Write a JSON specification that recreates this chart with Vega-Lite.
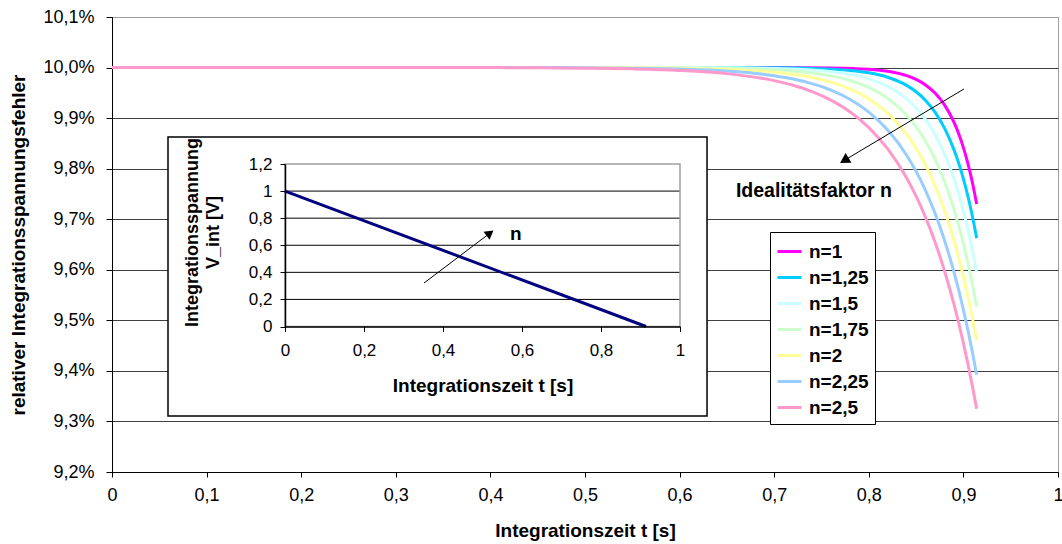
{
  "$schema": "https://vega.github.io/schema/vega-lite/v6.json",
  "width": 946,
  "height": 455,
  "autosize": {"type": "none"},
  "padding": {"left": 112, "top": 17, "right": 4, "bottom": 72},
  "background": "#ffffff",
  "config": {
    "font": "Liberation Sans",
    "view": {"stroke": "#a0a0a0", "strokeWidth": 1},
    "axis": {"labelColor": "#000000", "titleColor": "#000000", "labelFont": "Liberation Sans", "titleFont": "Liberation Sans"},
    "legend": {"labelFont": "Liberation Sans"}
  },
  "datasets": {
    "curves": [
      {"n": "n=1", "t": 0, "v": 10}, {"n": "n=1", "t": 0.7, "v": 10}, {"n": "n=1", "t": 0.76, "v": 9.9992}, {"n": "n=1", "t": 0.8, "v": 9.9965}, {"n": "n=1", "t": 0.82, "v": 9.9925}, {"n": "n=1", "t": 0.84, "v": 9.9839}, {"n": "n=1", "t": 0.85, "v": 9.9765}, {"n": "n=1", "t": 0.86, "v": 9.9655}, {"n": "n=1", "t": 0.87, "v": 9.9495}, {"n": "n=1", "t": 0.88, "v": 9.9261}, {"n": "n=1", "t": 0.89, "v": 9.8919}, {"n": "n=1", "t": 0.895, "v": 9.8692}, {"n": "n=1", "t": 0.9, "v": 9.8417}, {"n": "n=1", "t": 0.905, "v": 9.8084}, {"n": "n=1", "t": 0.91, "v": 9.7682}, {"n": "n=1", "t": 0.914, "v": 9.73},
      {"n": "n=1,25", "t": 0, "v": 10}, {"n": "n=1,25", "t": 0.65, "v": 10}, {"n": "n=1,25", "t": 0.7, "v": 9.9995}, {"n": "n=1,25", "t": 0.74, "v": 9.9983}, {"n": "n=1,25", "t": 0.76, "v": 9.9969}, {"n": "n=1,25", "t": 0.78, "v": 9.9943}, {"n": "n=1,25", "t": 0.8, "v": 9.9896}, {"n": "n=1,25", "t": 0.82, "v": 9.9808}, {"n": "n=1,25", "t": 0.84, "v": 9.9647}, {"n": "n=1,25", "t": 0.85, "v": 9.9521}, {"n": "n=1,25", "t": 0.86, "v": 9.935}, {"n": "n=1,25", "t": 0.87, "v": 9.9118}, {"n": "n=1,25", "t": 0.88, "v": 9.8803}, {"n": "n=1,25", "t": 0.89, "v": 9.8377}, {"n": "n=1,25", "t": 0.895, "v": 9.8109}, {"n": "n=1,25", "t": 0.9, "v": 9.7798}, {"n": "n=1,25", "t": 0.905, "v": 9.7435}, {"n": "n=1,25", "t": 0.91, "v": 9.7013}, {"n": "n=1,25", "t": 0.914, "v": 9.6625},
      {"n": "n=1,5", "t": 0, "v": 10}, {"n": "n=1,5", "t": 0.6, "v": 10}, {"n": "n=1,5", "t": 0.65, "v": 9.9995}, {"n": "n=1,5", "t": 0.7, "v": 9.9982}, {"n": "n=1,5", "t": 0.72, "v": 9.9971}, {"n": "n=1,5", "t": 0.74, "v": 9.9951}, {"n": "n=1,5", "t": 0.76, "v": 9.9919}, {"n": "n=1,5", "t": 0.78, "v": 9.9866}, {"n": "n=1,5", "t": 0.8, "v": 9.9777}, {"n": "n=1,5", "t": 0.82, "v": 9.9629}, {"n": "n=1,5", "t": 0.84, "v": 9.9382}, {"n": "n=1,5", "t": 0.85, "v": 9.9204}, {"n": "n=1,5", "t": 0.86, "v": 9.8973}, {"n": "n=1,5", "t": 0.87, "v": 9.8676}, {"n": "n=1,5", "t": 0.88, "v": 9.8293}, {"n": "n=1,5", "t": 0.89, "v": 9.7799}, {"n": "n=1,5", "t": 0.895, "v": 9.7501}, {"n": "n=1,5", "t": 0.9, "v": 9.7163}, {"n": "n=1,5", "t": 0.905, "v": 9.6778}, {"n": "n=1,5", "t": 0.91, "v": 9.6342}, {"n": "n=1,5", "t": 0.914, "v": 9.595},
      {"n": "n=1,75", "t": 0, "v": 10}, {"n": "n=1,75", "t": 0.55, "v": 10}, {"n": "n=1,75", "t": 0.6, "v": 9.9995}, {"n": "n=1,75", "t": 0.65, "v": 9.9985}, {"n": "n=1,75", "t": 0.7, "v": 9.9955}, {"n": "n=1,75", "t": 0.72, "v": 9.9931}, {"n": "n=1,75", "t": 0.74, "v": 9.9893}, {"n": "n=1,75", "t": 0.76, "v": 9.9835}, {"n": "n=1,75", "t": 0.78, "v": 9.9745}, {"n": "n=1,75", "t": 0.8, "v": 9.9606}, {"n": "n=1,75", "t": 0.82, "v": 9.939}, {"n": "n=1,75", "t": 0.84, "v": 9.9057}, {"n": "n=1,75", "t": 0.85, "v": 9.8828}, {"n": "n=1,75", "t": 0.86, "v": 9.8543}, {"n": "n=1,75", "t": 0.87, "v": 9.8188}, {"n": "n=1,75", "t": 0.88, "v": 9.7747}, {"n": "n=1,75", "t": 0.89, "v": 9.7199}, {"n": "n=1,75", "t": 0.895, "v": 9.6876}, {"n": "n=1,75", "t": 0.9, "v": 9.6517}, {"n": "n=1,75", "t": 0.905, "v": 9.6116}, {"n": "n=1,75", "t": 0.91, "v": 9.567}, {"n": "n=1,75", "t": 0.914, "v": 9.5275},
      {"n": "n=2", "t": 0, "v": 10}, {"n": "n=2", "t": 0.5, "v": 10}, {"n": "n=2", "t": 0.55, "v": 9.9995}, {"n": "n=2", "t": 0.6, "v": 9.9986}, {"n": "n=2", "t": 0.65, "v": 9.9965}, {"n": "n=2", "t": 0.7, "v": 9.9909}, {"n": "n=2", "t": 0.72, "v": 9.9866}, {"n": "n=2", "t": 0.74, "v": 9.9804}, {"n": "n=2", "t": 0.76, "v": 9.9713}, {"n": "n=2", "t": 0.78, "v": 9.958}, {"n": "n=2", "t": 0.8, "v": 9.9385}, {"n": "n=2", "t": 0.82, "v": 9.91}, {"n": "n=2", "t": 0.84, "v": 9.8682}, {"n": "n=2", "t": 0.85, "v": 9.8406}, {"n": "n=2", "t": 0.86, "v": 9.8071}, {"n": "n=2", "t": 0.87, "v": 9.7666}, {"n": "n=2", "t": 0.88, "v": 9.7176}, {"n": "n=2", "t": 0.89, "v": 9.6583}, {"n": "n=2", "t": 0.895, "v": 9.6241}, {"n": "n=2", "t": 0.9, "v": 9.5865}, {"n": "n=2", "t": 0.905, "v": 9.5451}, {"n": "n=2", "t": 0.91, "v": 9.4997}, {"n": "n=2", "t": 0.914, "v": 9.46},
      {"n": "n=2,25", "t": 0, "v": 10}, {"n": "n=2,25", "t": 0.45, "v": 10}, {"n": "n=2,25", "t": 0.5, "v": 9.9995}, {"n": "n=2,25", "t": 0.55, "v": 9.9987}, {"n": "n=2,25", "t": 0.6, "v": 9.997}, {"n": "n=2,25", "t": 0.65, "v": 9.9931}, {"n": "n=2,25", "t": 0.7, "v": 9.9838}, {"n": "n=2,25", "t": 0.72, "v": 9.9773}, {"n": "n=2,25", "t": 0.74, "v": 9.9681}, {"n": "n=2,25", "t": 0.76, "v": 9.9553}, {"n": "n=2,25", "t": 0.78, "v": 9.9373}, {"n": "n=2,25", "t": 0.8, "v": 9.9119}, {"n": "n=2,25", "t": 0.82, "v": 9.8764}, {"n": "n=2,25", "t": 0.84, "v": 9.8266}, {"n": "n=2,25", "t": 0.85, "v": 9.7946}, {"n": "n=2,25", "t": 0.86, "v": 9.7567}, {"n": "n=2,25", "t": 0.87, "v": 9.7117}, {"n": "n=2,25", "t": 0.88, "v": 9.6585}, {"n": "n=2,25", "t": 0.89, "v": 9.5955}, {"n": "n=2,25", "t": 0.895, "v": 9.5597}, {"n": "n=2,25", "t": 0.9, "v": 9.5208}, {"n": "n=2,25", "t": 0.905, "v": 9.4784}, {"n": "n=2,25", "t": 0.91, "v": 9.4323}, {"n": "n=2,25", "t": 0.914, "v": 9.3925},
      {"n": "n=2,5", "t": 0, "v": 10}, {"n": "n=2,5", "t": 0.4, "v": 10}, {"n": "n=2,5", "t": 0.45, "v": 9.9994}, {"n": "n=2,5", "t": 0.5, "v": 9.9988}, {"n": "n=2,5", "t": 0.55, "v": 9.9974}, {"n": "n=2,5", "t": 0.6, "v": 9.9944}, {"n": "n=2,5", "t": 0.65, "v": 9.988}, {"n": "n=2,5", "t": 0.7, "v": 9.9742}, {"n": "n=2,5", "t": 0.72, "v": 9.965}, {"n": "n=2,5", "t": 0.74, "v": 9.9525}, {"n": "n=2,5", "t": 0.76, "v": 9.9355}, {"n": "n=2,5", "t": 0.78, "v": 9.9125}, {"n": "n=2,5", "t": 0.8, "v": 9.8813}, {"n": "n=2,5", "t": 0.82, "v": 9.839}, {"n": "n=2,5", "t": 0.84, "v": 9.7816}, {"n": "n=2,5", "t": 0.85, "v": 9.7456}, {"n": "n=2,5", "t": 0.86, "v": 9.7037}, {"n": "n=2,5", "t": 0.87, "v": 9.6549}, {"n": "n=2,5", "t": 0.88, "v": 9.5981}, {"n": "n=2,5", "t": 0.89, "v": 9.5319}, {"n": "n=2,5", "t": 0.895, "v": 9.4948}, {"n": "n=2,5", "t": 0.9, "v": 9.4548}, {"n": "n=2,5", "t": 0.905, "v": 9.4116}, {"n": "n=2,5", "t": 0.91, "v": 9.3649}, {"n": "n=2,5", "t": 0.914, "v": 9.325}
    ],
    "mainArrow": [
      {"t": 0.9006, "v": 9.9576, "end": false},
      {"t": 0.7741, "v": 9.8164, "end": true}
    ],
    "mainText": [
      {"t": 0.742, "v": 9.744, "label": "Idealitätsfaktor n"}
    ],
    "insetBox": [
      {"t": 0.0592, "t2": 0.629, "v": 9.8626, "v2": 9.3108}
    ],
    "insetGrid": [
      {"V": 0.2}, {"V": 0.4}, {"V": 0.6}, {"V": 0.8}, {"V": 1.0}
    ],
    "insetFrame": [
      {"t": 0, "t2": 1, "V": 0, "V2": 1.2}
    ],
    "insetLine": [
      {"t": 0, "V": 1},
      {"t": 0.914, "V": 0}
    ],
    "insetArrow": [
      {"t": 0.352, "V": 0.321, "end": false},
      {"t": 0.519, "V": 0.69, "end": true}
    ],
    "insetText": [
      {"t": 0.584, "V": 0.683, "label": "n"}
    ]
  },
  "layer": [
    {
      "layer": [
        {
          "data": {"name": "curves"},
          "mark": {"type": "line", "strokeWidth": 3, "interpolate": "monotone"},
          "encoding": {
            "x": {
              "field": "t", "type": "quantitative", "title": "Integrationszeit t [s]",
              "scale": {"domain": [0, 1], "nice": false, "zero": false},
              "axis": {
                "orient": "bottom",
                "values": [0, 0.1, 0.2, 0.3, 0.4, 0.5, 0.6, 0.7, 0.8, 0.9, 1],
                "labelExpr": "replace(format(datum.value, '~g'), '.', ',')",
                "grid": false, "domainColor": "#000000", "tickColor": "#000000", "tickSize": 5,
                "labelFontSize": 18, "labelPadding": 9, "labelFlush": false, "labelOverlap": false,
                "titleFontSize": 19, "titleFontWeight": "bold", "titlePadding": 17, "zindex": 0
              }
            },
            "y": {
              "field": "v", "type": "quantitative", "title": "relativer Integrationsspannungsfehler",
              "scale": {"domain": [9.2, 10.1], "nice": false, "zero": false},
              "axis": {
                "orient": "left",
                "values": [9.2, 9.3, 9.4, 9.5, 9.6, 9.7, 9.8, 9.9, 10.0, 10.1],
                "labelExpr": "replace(format(datum.value, '.1f'), '.', ',') + '%'",
                "grid": true,
                "gridColor": {"condition": {"test": "datum.value > 10.05", "value": "#a0a0a0"}, "value": "#404040"},
                "gridOpacity": 1, "gridWidth": 1,
                "domainColor": "#000000", "tickColor": "#000000", "tickSize": 6,
                "labelFontSize": 18, "labelPadding": 12, "labelFlush": false, "labelOverlap": false,
                "titleFontSize": 19, "titleFontWeight": "bold", "titlePadding": 14, "zindex": 0
              }
            },
            "color": {
              "field": "n", "type": "nominal",
              "scale": {
                "domain": ["n=1", "n=1,25", "n=1,5", "n=1,75", "n=2", "n=2,25", "n=2,5"],
                "range": ["#FF00FF", "#00CCFF", "#CCFFFF", "#CCFFCC", "#FFFF99", "#99CCFF", "#FF99CC"]
              },
              "legend": {
                "orient": "none", "legendX": 658, "legendY": 215, "title": null,
                "symbolType": "stroke", "symbolSize": 576, "symbolStrokeWidth": 3, "symbolOpacity": 1,
                "labelFontSize": 19, "labelFontWeight": "bold", "labelColor": "#000000", "labelOffset": 6,
                "strokeColor": "#000000", "fillColor": "#ffffff", "padding": 6, "rowPadding": 2
              }
            }
          }
        },
        {
          "data": {"name": "mainArrow"},
          "mark": {"type": "line", "color": "#000000", "strokeWidth": 1},
          "encoding": {
            "x": {"field": "t", "type": "quantitative", "title": "Integrationszeit t [s]"},
            "y": {"field": "v", "type": "quantitative", "title": "relativer Integrationsspannungsfehler"}
          }
        },
        {
          "data": {"name": "mainArrow"},
          "transform": [{"filter": "datum.end"}],
          "mark": {"type": "point", "shape": "triangle-up", "angle": 239, "size": 130, "filled": true, "color": "#000000", "opacity": 1},
          "encoding": {
            "x": {"field": "t", "type": "quantitative", "title": "Integrationszeit t [s]"},
            "y": {"field": "v", "type": "quantitative", "title": "relativer Integrationsspannungsfehler"}
          }
        },
        {
          "data": {"name": "mainText"},
          "mark": {"type": "text", "align": "center", "baseline": "alphabetic", "fontSize": 19.5, "fontWeight": "bold", "color": "#000000"},
          "encoding": {
            "x": {"field": "t", "type": "quantitative", "title": "Integrationszeit t [s]"},
            "y": {"field": "v", "type": "quantitative", "title": "relativer Integrationsspannungsfehler"},
            "text": {"field": "label"}
          }
        },
        {
          "data": {"name": "insetBox"},
          "mark": {"type": "rect", "fill": "#ffffff", "stroke": "#000000", "strokeWidth": 1.5},
          "encoding": {
            "x": {"field": "t", "type": "quantitative", "title": "Integrationszeit t [s]"},
            "x2": {"field": "t2"},
            "y": {"field": "v", "type": "quantitative", "title": "relativer Integrationsspannungsfehler"},
            "y2": {"field": "v2"}
          }
        }
      ]
    },
    {
      "layer": [
        {
          "data": {"name": "insetGrid"},
          "mark": {"type": "rule", "color": "#000000", "strokeWidth": 1},
          "encoding": {
            "x": {"datum": 0, "type": "quantitative"},
            "x2": {"datum": 1},
            "y": {"field": "V", "type": "quantitative", "title": ["Integrationsspannung", "V_int [V]"]}
          }
        },
        {
          "data": {"name": "insetFrame"},
          "mark": {"type": "rect", "fill": null, "fillOpacity": 0, "stroke": "#a0a0a0", "strokeWidth": 1.5},
          "encoding": {
            "x": {"field": "t", "type": "quantitative", "title": "Integrationszeit t [s]"},
            "x2": {"field": "t2"},
            "y": {"field": "V", "type": "quantitative", "title": ["Integrationsspannung", "V_int [V]"]},
            "y2": {"field": "V2"}
          }
        },
        {
          "data": {"name": "insetLine"},
          "mark": {"type": "line", "color": "#000080", "strokeWidth": 3},
          "encoding": {
            "x": {
              "field": "t", "type": "quantitative", "title": "Integrationszeit t [s]",
              "scale": {"domain": [0, 1], "range": [173, 568], "nice": false, "zero": false},
              "axis": {
                "orient": "bottom", "offset": -145.5,
                "values": [0, 0.2, 0.4, 0.6, 0.8, 1],
                "labelExpr": "replace(format(datum.value, '~g'), '.', ',')",
                "grid": false, "domainColor": "#000000", "domainWidth": 1.5, "tickColor": "#000000", "tickSize": 5,
                "labelFontSize": 17, "labelPadding": 11, "labelFlush": false, "labelOverlap": false,
                "titleFontSize": 19, "titleFontWeight": "bold", "titlePadding": 18, "zindex": 2
              }
            },
            "y": {
              "field": "V", "type": "quantitative", "title": ["Integrationsspannung", "V_int [V]"],
              "scale": {"domain": [0, 1.2], "range": [309.5, 147], "nice": false, "zero": false},
              "axis": {
                "orient": "left", "offset": -173,
                "values": [0, 0.2, 0.4, 0.6, 0.8, 1, 1.2],
                "labelExpr": "replace(format(datum.value, '~g'), '.', ',')",
                "grid": false, "domainColor": "#000000", "domainWidth": 1.5, "tickColor": "#000000", "tickSize": 5,
                "labelFontSize": 17, "labelPadding": 8, "labelFlush": false, "labelOverlap": false,
                "titleFontSize": 18, "titleFontWeight": "bold", "titlePadding": 26, "titleLineHeight": 21,
                "titleY": 215, "zindex": 2
              }
            }
          }
        },
        {
          "data": {"name": "insetArrow"},
          "mark": {"type": "line", "color": "#000000", "strokeWidth": 1},
          "encoding": {
            "x": {"field": "t", "type": "quantitative", "title": "Integrationszeit t [s]"},
            "y": {"field": "V", "type": "quantitative", "title": ["Integrationsspannung", "V_int [V]"]}
          }
        },
        {
          "data": {"name": "insetArrow"},
          "transform": [{"filter": "datum.end"}],
          "mark": {"type": "point", "shape": "triangle-up", "angle": 53, "size": 100, "filled": true, "color": "#000000", "opacity": 1},
          "encoding": {
            "x": {"field": "t", "type": "quantitative", "title": "Integrationszeit t [s]"},
            "y": {"field": "V", "type": "quantitative", "title": ["Integrationsspannung", "V_int [V]"]}
          }
        },
        {
          "data": {"name": "insetText"},
          "mark": {"type": "text", "align": "center", "baseline": "middle", "fontSize": 19, "fontWeight": "bold", "color": "#000000"},
          "encoding": {
            "x": {"field": "t", "type": "quantitative", "title": "Integrationszeit t [s]"},
            "y": {"field": "V", "type": "quantitative", "title": ["Integrationsspannung", "V_int [V]"]},
            "text": {"field": "label"}
          }
        }
      ]
    }
  ],
  "resolve": {
    "scale": {"x": "independent", "y": "independent"},
    "axis": {"x": "independent", "y": "independent"}
  }
}
